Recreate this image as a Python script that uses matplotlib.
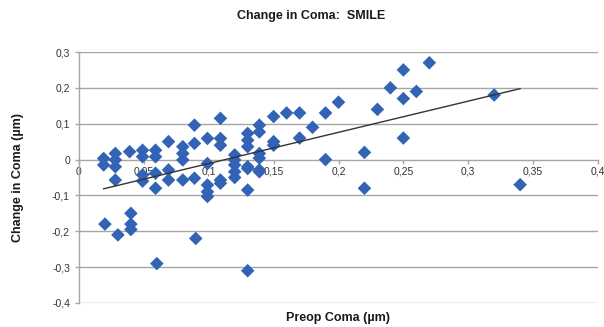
import matplotlib
matplotlib.use("Agg")
import matplotlib.pyplot as plt
import numpy as np

plt.rcParams['font.family'] = ['Liberation Sans', 'DejaVu Sans']

# Preoperative coma (µm) and change in coma after SMILE (µm)
preop = [
    # higher-coma eyes
    0.27, 0.25, 0.24, 0.26, 0.25, 0.23, 0.25, 0.22, 0.22, 0.19,
    0.20, 0.19, 0.18, 0.17, 0.16, 0.15, 0.17, 0.15, 0.15, 0.32, 0.34,
    # large negative changes
    0.02, 0.03, 0.04, 0.04, 0.04, 0.06, 0.09, 0.13,
    # main cluster
    0.019, 0.019, 0.028, 0.028, 0.028, 0.028, 0.039,
    0.049, 0.049, 0.049, 0.049,
    0.059, 0.059, 0.059, 0.059,
    0.069, 0.069, 0.069,
    0.080, 0.080, 0.080, 0.080,
    0.089, 0.089, 0.089,
    0.099, 0.099, 0.099, 0.099, 0.099,
    0.109, 0.109, 0.109, 0.109, 0.109,
    0.120, 0.120, 0.120, 0.120, 0.120,
    0.130, 0.130, 0.130, 0.130, 0.130, 0.130,
    0.139, 0.139, 0.139, 0.139, 0.139, 0.139,
]
change = [
    0.27, 0.25, 0.20, 0.19, 0.17, 0.14, 0.06, 0.02, -0.08, 0.00,
    0.16, 0.13, 0.09, 0.13, 0.13, 0.12, 0.06, 0.05, 0.04, 0.18, -0.07,
    -0.18, -0.21, -0.15, -0.18, -0.195, -0.29, -0.22, -0.31,
    0.003, -0.015, 0.017, -0.001, -0.02, -0.057, 0.022,
    0.026, 0.008, -0.043, -0.06,
    0.026, 0.008, -0.038, -0.08,
    0.05, -0.029, -0.057,
    0.036, 0.017, -0.001, -0.057,
    0.096, 0.045, -0.052,
    0.059, -0.011, -0.071, -0.09, -0.103,
    0.115, 0.059, 0.04, -0.057, -0.066,
    0.013, -0.001, -0.015, -0.034, -0.05,
    0.073, 0.054, 0.036, -0.025, -0.085, -0.02,
    0.096, 0.077, 0.017, -0.029, 0.004, -0.034,
]

# Linear trend line
trend_slope = 0.87
trend_intercept = -0.098

x_ticks = [0, 0.05, 0.1, 0.15, 0.2, 0.25, 0.3, 0.35, 0.4]
x_tick_labels = ["0", "0,05", "0,1", "0,15", "0,2", "0,25", "0,3", "0,35", "0,4"]
y_ticks = [-0.4, -0.3, -0.2, -0.1, 0, 0.1, 0.2, 0.3]
y_tick_labels = ["-0,4", "-0,3", "-0,2", "-0,1", "0", "0,1", "0,2", "0,3"]

fig = plt.figure(figsize=(6.04, 3.27), dpi=100)
ax = fig.add_axes([79 / 604, 1 - 303 / 327, (598 - 79) / 604, (303 - 52) / 327])

ax.set_xlim(0, 0.4)
ax.set_ylim(-0.4, 0.3)

grid_color = "#a6a6a6"
for yv in y_ticks:
    if yv != 0:
        ax.axhline(yv, color=grid_color, lw=1.0, zorder=1)

ax.spines['top'].set_visible(False)
ax.spines['right'].set_visible(False)
ax.spines['left'].set_color(grid_color)
ax.spines['bottom'].set_position(('data', 0))
ax.spines['bottom'].set_color(grid_color)
ax.spines['bottom'].set_linewidth(1.0)
ax.spines['left'].set_linewidth(1.0)

ax.set_xticks(x_ticks)
ax.set_xticklabels(x_tick_labels)
ax.set_yticks(y_ticks)
ax.set_yticklabels(y_tick_labels)
ax.tick_params(axis='both', colors=grid_color, labelcolor="#333333",
               labelsize=7.5, length=3, width=1)
ax.tick_params(axis='x', pad=2)

ax.scatter(preop, change, marker='D', s=48, color="#3263b5",
           edgecolors='none', zorder=3)

tx = np.array([min(preop), max(preop)])
ax.plot(tx, trend_slope * tx + trend_intercept, color="#333333",
        lw=1.0, zorder=4)

fig.text(0.515, 1 - 16 / 327, "Change in Coma:  SMILE", ha='center',
         va='center', fontsize=9, fontweight='bold', color="#1a1a1a")
fig.text(338 / 604, 1 - 318 / 327, "Preop Coma (µm)", ha='center',
         va='center', fontsize=9, fontweight='bold', color="#1a1a1a")
fig.text(18 / 604, 1 - 178 / 327, "Change in Coma (µm)", ha='center',
         va='center', rotation=90, fontsize=9, fontweight='bold',
         color="#1a1a1a")

fig.savefig("out.png", dpi=100, facecolor="white")
